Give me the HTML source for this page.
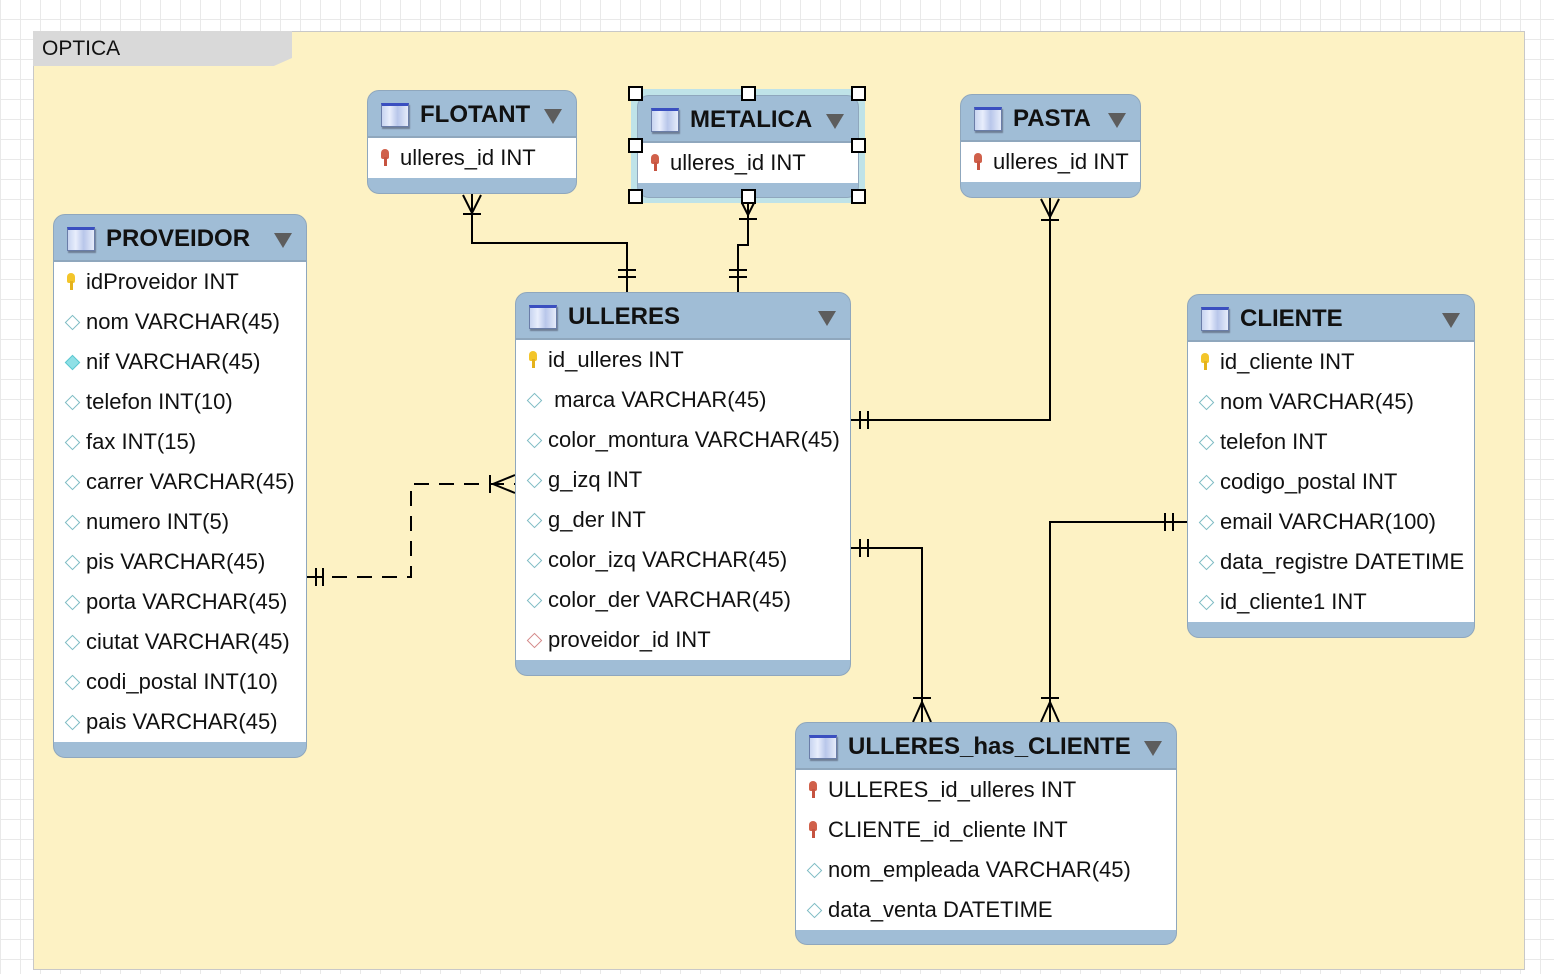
<!DOCTYPE html>
<html><head><meta charset="utf-8">
<style>
*{margin:0;padding:0;box-sizing:border-box}
body{width:1554px;height:974px;overflow:hidden;position:relative;font-family:"Liberation Sans",sans-serif;
background-color:#fff;
background-image:linear-gradient(#e9e9e9 1px,transparent 1px),linear-gradient(90deg,#e9e9e9 1px,transparent 1px);
background-size:20px 20px;background-position:0 -1px}
#layer{position:absolute;left:33px;top:31px;width:1492px;height:939px;background:#fdf2c4;border:1px solid #c8c8c8}
#tab{position:absolute;left:33px;top:31px;width:259px;height:35px;background:#d9d9d9;font-size:21px;color:#111;padding:6px 0 0 9px;clip-path:polygon(0 0,100% 0,100% 77%,93% 100%,0 100%)}
.t{position:absolute;background:#a0bdd6;border:1px solid #8fa7bd;border-radius:12px;overflow:hidden}
.h{height:47px;position:relative;font-weight:bold;font-size:24px;color:#111;line-height:47px;padding-left:52px;border-bottom:2px solid #8fa7bd}
.h .ic{position:absolute;left:13px;top:12px;width:28px;height:24px;border:1px solid #6a7da8;border-top:3px solid #3a4fc0;background:linear-gradient(90deg,#c8d4f0,#e8eefc 30%,#b8c6ea 60%,#e6ecfa);box-shadow:1px 2px 1px #6e7f96}
.h .ar{position:absolute;right:14px;top:18px;width:0;height:0;border-left:9px solid transparent;border-right:9px solid transparent;border-top:15px solid #5d5d5d}
.b{background:#fff}
.r{height:40px;line-height:40px;font-size:22px;color:#111;padding-left:32px;position:relative;white-space:nowrap}
.r.k::before{content:"";position:absolute;left:13px;top:11px;width:8px;height:10px;border-radius:4px 4px 2px 2px;background:#f3c52a}
.r.k::after{content:"";position:absolute;left:16px;top:19px;width:3px;height:9px;background:#e4b21c}
.r.f::before{content:"";position:absolute;left:13px;top:11px;width:8px;height:10px;border-radius:4px 4px 2px 2px;background:#d0604a}
.r.f::after{content:"";position:absolute;left:16px;top:19px;width:3px;height:9px;background:#c65340}
.r.d::before{content:"";position:absolute;left:13px;top:15px;width:9px;height:9px;border:1.5px solid #7fbcc4;transform:rotate(45deg);background:#fff}
.r.n::before{content:"";position:absolute;left:13px;top:15px;width:9px;height:9px;border:1.5px solid #5cc7d0;transform:rotate(45deg);background:#8fe0e6}
.r.x::before{content:"";position:absolute;left:13px;top:15px;width:9px;height:9px;border:1.5px solid #d48a8a;transform:rotate(45deg);background:#fff}
.hd{position:absolute;width:15px;height:15px;background:#fff;border:2px solid #000}
svg{position:absolute;left:0;top:0}
</style></head><body>
<div id="layer"></div>
<div id="tab">OPTICA</div>
<svg width="1554" height="974" stroke="#000" stroke-width="2" fill="none">
<polyline points="472,193 472,243 627,243 627,292"/>
<line x1="463" y1="214" x2="481" y2="214"/><polyline points="463,195 472,213 481,195"/>
<line x1="618" y1="270" x2="636" y2="270"/><line x1="618" y1="277" x2="636" y2="277"/>
<polyline points="748,197 748,245 738,245 738,292"/>
<line x1="739" y1="219" x2="757" y2="219"/><polyline points="740,199 748,215 756,199"/>
<line x1="729" y1="270" x2="747" y2="270"/><line x1="729" y1="277" x2="747" y2="277"/>
<polyline points="1050,197 1050,420 851,420"/>
<line x1="1041" y1="220" x2="1059" y2="220"/><polyline points="1041,199 1050,217 1059,199"/>
<line x1="860" y1="411" x2="860" y2="429"/><line x1="868" y1="411" x2="868" y2="429"/>
<polyline points="307,577 411,577 411,484 515,484" stroke-dasharray="15,10"/>
<line x1="316" y1="568" x2="316" y2="586"/><line x1="323" y1="568" x2="323" y2="586"/>
<line x1="490" y1="475" x2="490" y2="493"/><polyline points="515,475 493,484 515,493"/>
<polyline points="851,548 922,548 922,722"/>
<line x1="860" y1="539" x2="860" y2="557"/><line x1="868" y1="539" x2="868" y2="557"/>
<line x1="913" y1="698" x2="931" y2="698"/><polyline points="913,722 922,702 931,722"/>
<polyline points="1187,522 1050,522 1050,722"/>
<line x1="1165" y1="513" x2="1165" y2="531"/><line x1="1173" y1="513" x2="1173" y2="531"/>
<line x1="1041" y1="698" x2="1059" y2="698"/><polyline points="1041,722 1050,702 1059,722"/>
</svg>

<div class="t" style="left:367px;top:90px;width:210px;height:104px"><div class="h"><span class="ic"></span>FLOTANT<span class="ar"></span></div>
<div class="b"><div class="r f">ulleres_id INT</div></div></div>

<div style="position:absolute;left:631px;top:89px;width:234px;height:114px;background:#bfe3e8;border-radius:6px"></div>
<div class="t" style="left:637px;top:95px;width:222px;height:103px"><div class="h"><span class="ic"></span>METALICA<span class="ar"></span></div>
<div class="b"><div class="r f">ulleres_id INT</div></div></div>
<div class="hd" style="left:628px;top:86px"></div><div class="hd" style="left:741px;top:86px"></div><div class="hd" style="left:851px;top:86px"></div>
<div class="hd" style="left:628px;top:138px"></div><div class="hd" style="left:851px;top:138px"></div>
<div class="hd" style="left:628px;top:189px"></div><div class="hd" style="left:741px;top:189px"></div><div class="hd" style="left:851px;top:189px"></div>

<div class="t" style="left:960px;top:94px;width:181px;height:104px"><div class="h"><span class="ic"></span>PASTA<span class="ar"></span></div>
<div class="b"><div class="r f">ulleres_id INT</div></div></div>

<div class="t" style="left:53px;top:214px;width:254px;height:544px"><div class="h"><span class="ic"></span>PROVEIDOR<span class="ar"></span></div>
<div class="b">
<div class="r k">idProveidor INT</div><div class="r d">nom VARCHAR(45)</div><div class="r n">nif VARCHAR(45)</div><div class="r d">telefon INT(10)</div><div class="r d">fax INT(15)</div><div class="r d">carrer VARCHAR(45)</div><div class="r d">numero INT(5)</div><div class="r d">pis VARCHAR(45)</div><div class="r d">porta VARCHAR(45)</div><div class="r d">ciutat VARCHAR(45)</div><div class="r d">codi_postal INT(10)</div><div class="r d">pais VARCHAR(45)</div>
</div></div>

<div class="t" style="left:515px;top:292px;width:336px;height:384px"><div class="h"><span class="ic"></span>ULLERES<span class="ar"></span></div>
<div class="b">
<div class="r k">id_ulleres INT</div><div class="r d">&nbsp;marca VARCHAR(45)</div><div class="r d">color_montura VARCHAR(45)</div><div class="r d">g_izq INT</div><div class="r d">g_der INT</div><div class="r d">color_izq VARCHAR(45)</div><div class="r d">color_der VARCHAR(45)</div><div class="r x">proveidor_id INT</div>
</div></div>

<div class="t" style="left:1187px;top:294px;width:288px;height:344px"><div class="h"><span class="ic"></span>CLIENTE<span class="ar"></span></div>
<div class="b">
<div class="r k">id_cliente INT</div><div class="r d">nom VARCHAR(45)</div><div class="r d">telefon INT</div><div class="r d">codigo_postal INT</div><div class="r d">email VARCHAR(100)</div><div class="r d">data_registre DATETIME</div><div class="r d">id_cliente1 INT</div>
</div></div>

<div class="t" style="left:795px;top:722px;width:382px;height:223px"><div class="h"><span class="ic"></span>ULLERES_has_CLIENTE<span class="ar"></span></div>
<div class="b">
<div class="r f">ULLERES_id_ulleres INT</div><div class="r f">CLIENTE_id_cliente INT</div><div class="r d">nom_empleada VARCHAR(45)</div><div class="r d">data_venta DATETIME</div>
</div></div>
</body></html>
